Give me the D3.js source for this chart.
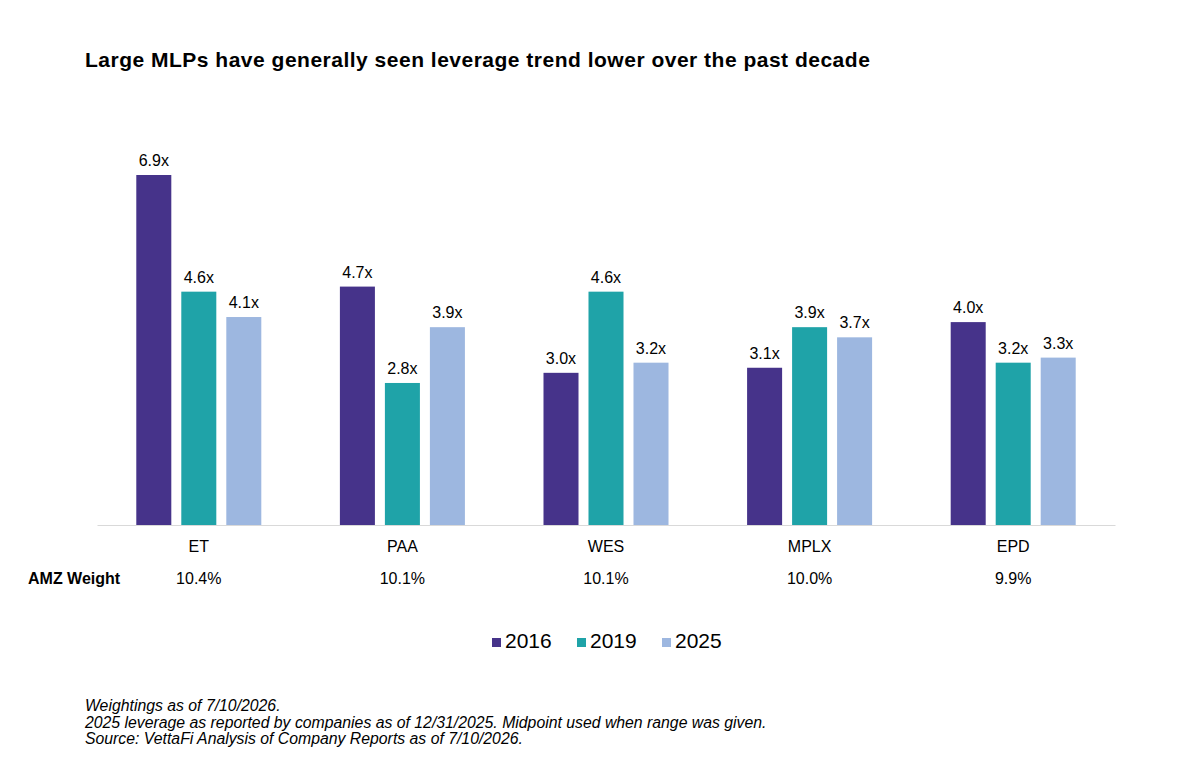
<!DOCTYPE html>
<html>
<head>
<meta charset="utf-8">
<script src="https://cdn.jsdelivr.net/npm/d3@7"></script>
<style>
  body { margin: 0; background: #fff; }
  text { font-family: "Liberation Sans", Arial, sans-serif; fill: #000; }
</style>
</head>
<body>
<script>
// data
const companies = ["ET", "PAA", "WES", "MPLX", "EPD"]
const years = ["2016", "2019", "2025"]
const lev2016 = [6.9, 4.7, 3.0, 3.1, 4.0]
const lev2019 = [4.6, 2.8, 4.6, 3.9, 3.2]
const lev2025 = [4.1, 3.9, 3.2, 3.7, 3.3]
const amzWeight = ["10.4%", "10.1%", "10.1%", "10.0%", "9.9%"]
const footnotes = [
    "Weightings as of 7/10/2026.",
    "2025 leverage as reported by companies as of 12/31/2025. Midpoint used when range was given.",
    "Source: VettaFi Analysis of Company Reports as of 7/10/2026."
]
const colors = {"2016": "#46338a", "2019": "#1fa3a8", "2025": "#9db7e0"}

let w = 1200
let h = 778

let rows = companies.map((c, i) => ({
    name: c,
    vals: [
        {year: "2016", v: lev2016[i]},
        {year: "2019", v: lev2019[i]},
        {year: "2025", v: lev2025[i]}
    ]
}))

let svg = d3.select("body").append("svg")
    .attr("width", w)
    .attr("height", h)

// title
svg.append("text")
    .attr("x", 85)
    .attr("y", 67)
    .style("font-size", "21px")
    .style("font-weight", "bold")
    .style("letter-spacing", "0.5px")
    .text("Large MLPs have generally seen leverage trend lower over the past decade")

let baseY = 525
let x0 = d3.scaleBand()
    .domain(companies)
    .range([97, 1115])
    .paddingInner(0.386)
    .paddingOuter(0.193)

let x1 = d3.scaleBand()
    .domain(years)
    .range([0, x0.bandwidth()])
    .paddingInner(0.222)

let y = d3.scaleLinear()
    .domain([0, 6.9])
    .range([baseY, 175])

let groups = svg.append("g").selectAll("g")
    .data(rows)
    .enter().append("g")
    .attr("transform", d => "translate(" + x0(d.name) + ",0)")

groups.selectAll("rect")
    .data(d => d.vals)
    .enter().append("rect")
    .attr("x", d => x1(d.year))
    .attr("y", d => y(d.v))
    .attr("width", x1.bandwidth())
    .attr("height", d => baseY - y(d.v))
    .attr("fill", d => colors[d.year])

groups.selectAll("text")
    .data(d => d.vals)
    .enter().append("text")
    .attr("x", d => x1(d.year) + x1.bandwidth() / 2)
    .attr("y", d => y(d.v) - 9)
    .attr("text-anchor", "middle")
    .style("font-size", "16px")
    .text(d => d.v.toFixed(1) + "x")

// axis line
let xAxis = svg.append("g")
    .attr("transform", "translate(0," + baseY + ")")
    .call(d3.axisBottom(x0).tickSize(0).tickPadding(0))
xAxis.select(".domain").attr("stroke", "#d9d9d9").attr("stroke-width", 1)
xAxis.selectAll(".tick text")
    .attr("dy", null)
    .attr("y", 27)
    .style("font-size", "16px")
    .style("font-family", "Liberation Sans, Arial, sans-serif")
    .attr("fill", "#000")

// weight row
svg.append("text")
    .attr("x", 28)
    .attr("y", 584)
    .style("font-size", "16px")
    .style("font-weight", "bold")
    .text("AMZ Weight")

svg.append("g").selectAll("text")
    .data(companies)
    .enter().append("text")
    .attr("x", d => x0(d) + x0.bandwidth() / 2)
    .attr("y", 584)
    .attr("text-anchor", "middle")
    .style("font-size", "16px")
    .text((d, i) => amzWeight[i])

// legend
let legX = [492, 577, 662]
let legend = svg.append("g").selectAll("g")
    .data(years)
    .enter().append("g")
    .attr("transform", (d, i) => "translate(" + legX[i] + ",648)")
legend.append("rect")
    .attr("x", 0)
    .attr("y", -10)
    .attr("width", 9)
    .attr("height", 9)
    .attr("fill", d => colors[d])
legend.append("text")
    .attr("x", 13)
    .attr("y", 0)
    .style("font-size", "21px")
    .text(d => d)

// footnotes
svg.append("g").selectAll("text")
    .data(footnotes)
    .enter().append("text")
    .attr("x", 85)
    .attr("y", (d, i) => 711 + i * 16.5)
    .style("font-size", "15.8px")
    .style("font-style", "italic")
    .text(d => d)
</script>
</body>
</html>
